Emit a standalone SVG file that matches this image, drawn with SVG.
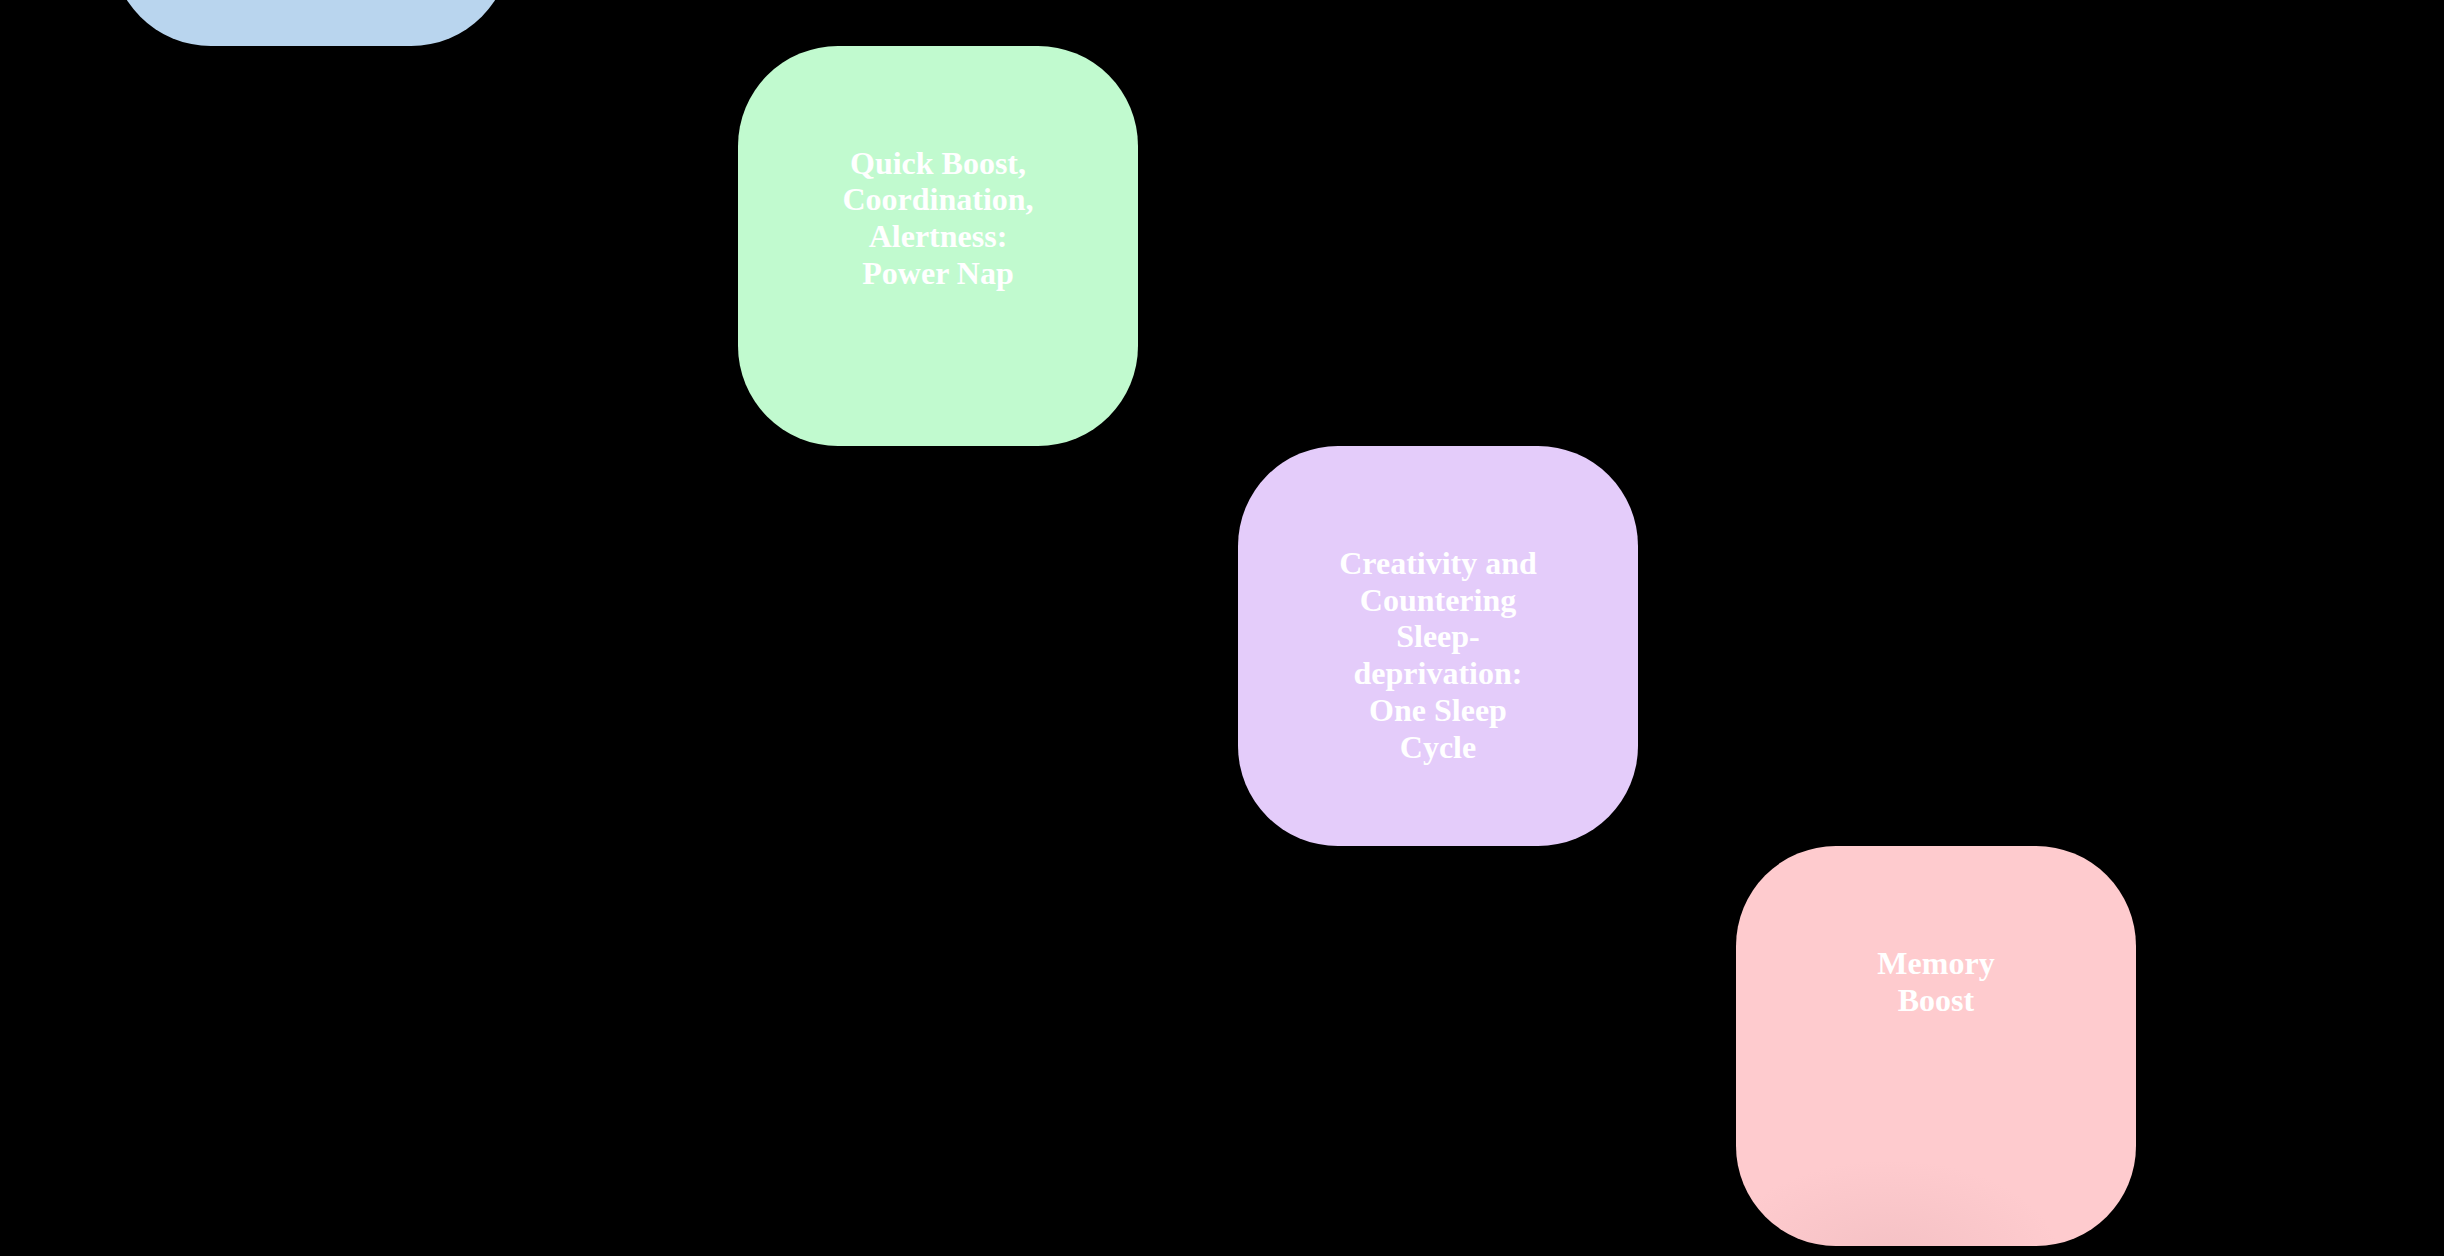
<svg xmlns="http://www.w3.org/2000/svg" width="2444" height="1256" viewBox="0 0 2444 1256">
  <defs>
    <style>
      .box { stroke: none; }
      .lbl { font-family: "Liberation Serif", "Times New Roman", serif; font-weight: bold; font-size: 32px; fill: #ffffff; text-anchor: middle; }
    </style>
    <radialGradient id="shade" cx="0.5" cy="0.5" r="0.5">
      <stop offset="0" stop-color="#e8b4b8" stop-opacity="0.45"/>
      <stop offset="1" stop-color="#e8b4b8" stop-opacity="0"/>
    </radialGradient>
    <clipPath id="pinkClip">
      <rect x="1736" y="846" width="400" height="400" rx="100" ry="100"/>
    </clipPath>
  </defs>
  <rect x="0" y="0" width="2444" height="1256" fill="#000000"/>
  <g id="connectors"></g>
  <g id="node-blue">
    <rect class="box" x="111" y="-354" width="400" height="400" rx="100" ry="100" fill="#b9d5ee"/>
  </g>
  <g id="node-power-nap">
    <rect class="box" x="738" y="46" width="400" height="400" rx="100" ry="100" fill="#c1facf"/>
    <text class="lbl" x="938" y="173.5"><tspan x="938">Quick Boost,</tspan><tspan x="938" dy="36.7">Coordination,</tspan><tspan x="938" dy="36.7">Alertness:</tspan><tspan x="938" dy="36.7">Power Nap</tspan></text>
  </g>
  <g id="node-sleep-cycle">
    <rect class="box" x="1238" y="446" width="400" height="400" rx="100" ry="100" fill="#e4ccfa"/>
    <text class="lbl" x="1438" y="574"><tspan x="1438">Creativity and</tspan><tspan x="1438" dy="36.7">Countering</tspan><tspan x="1438" dy="36.7">Sleep-</tspan><tspan x="1438" dy="36.7">deprivation:</tspan><tspan x="1438" dy="36.7">One Sleep</tspan><tspan x="1438" dy="36.7">Cycle</tspan></text>
  </g>
  <g id="node-memory-boost">
    <rect class="box" x="1736" y="846" width="400" height="400" rx="100" ry="100" fill="#fecbce"/>
    <ellipse cx="1890" cy="1260" rx="170" ry="100" fill="url(#shade)" clip-path="url(#pinkClip)"/>
    <text class="lbl" x="1936" y="974"><tspan x="1936">Memory</tspan><tspan x="1936" dy="36.7">Boost</tspan></text>
  </g>
</svg>
